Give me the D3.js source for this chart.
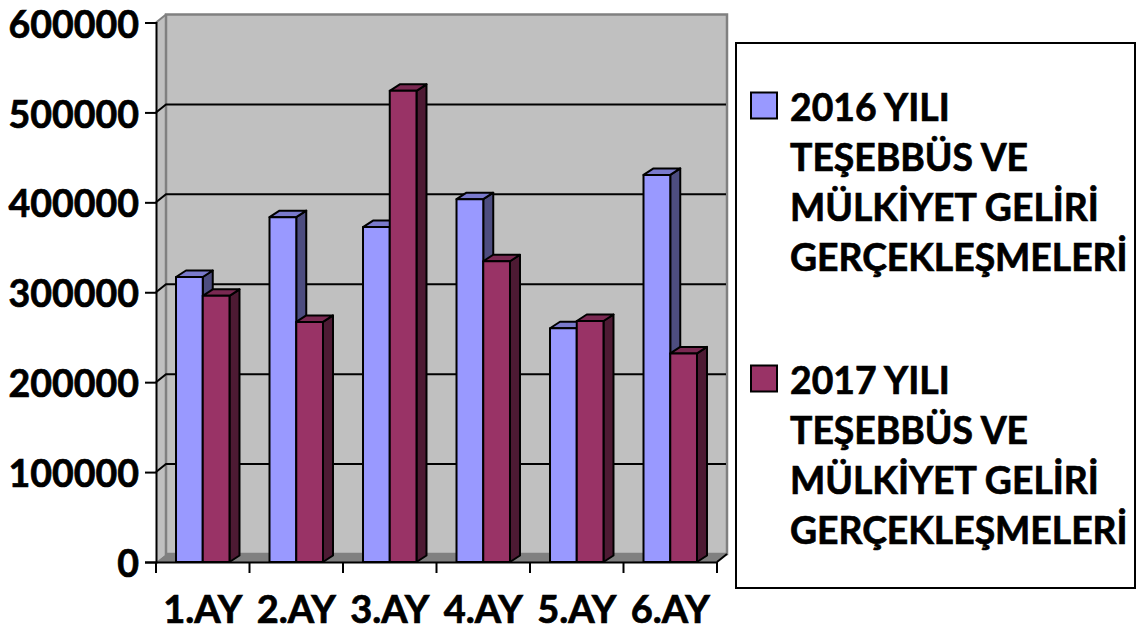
<!DOCTYPE html>
<html>
<head>
<meta charset="utf-8">
<script src="https://cdn.jsdelivr.net/npm/d3@7"></script>
<style>
html, body { margin: 0; padding: 0; background: #fff; }
text { font-family: Lato, "Open Sans", sans-serif; font-weight: 700; fill: #000; stroke: #000; stroke-width: 0.7px; }
</style>
</head>
<body>
<svg id="fig1" width="1137" height="630"></svg>
<script>
const months = ['1.AY', '2.AY', '3.AY', '4.AY', '5.AY', '6.AY'];
const values2016 = [317000, 383500, 372500, 403500, 260000, 430500];
const values2017 = [296000, 267000, 524000, 334500, 268000, 232000];
const yTicks = [0, 100000, 200000, 300000, 400000, 500000, 600000];
const legendLabels2016 = ['2016 YILI', 'TEŞEBBÜS VE', 'MÜLKİYET GELİRİ', 'GERÇEKLEŞMELERİ'];
const legendLabels2017 = ['2017 YILI', 'TEŞEBBÜS VE', 'MÜLKİYET GELİRİ', 'GERÇEKLEŞMELERİ'];

const colors = {
    blue: { front: '#9999ff', top: '#7a7acc', side: '#4d4d80' },
    red: { front: '#993366', top: '#7a2952', side: '#4d1a33' }
};

const chart = d3.select('#fig1');
const plotLeft = 156, plotRight = 717, plotTop = 22.5, plotBottom = 562;
const depthX = 10, depthY = 8;   // 3d offset of the back wall
const barDepthY = 6.5;           // bars are a bit shallower than the wall

const x = d3.scaleBand().domain(months).range([plotLeft, plotRight])
    .paddingInner(0.428).paddingOuter(0.214);
const xSeries = d3.scaleBand().domain(['a', 'b']).range([0, x.bandwidth()]);
const y = d3.scaleLinear().domain([0, 600000]).range([plotBottom, plotTop]);

const poly = pts => pts.map(p => p.join(',')).join(' ');

// walls
const walls = chart.append('g');
walls.append('polygon')
    .attr('points', poly([[plotLeft, plotTop], [plotLeft + depthX, plotTop - depthY], [plotLeft + depthX, plotBottom - depthY], [plotLeft, plotBottom]]))
    .attr('fill', '#c0c0c0');
walls.append('rect')
    .attr('x', plotLeft + depthX).attr('y', plotTop - depthY)
    .attr('width', plotRight - plotLeft).attr('height', plotBottom - plotTop)
    .attr('fill', '#c0c0c0').attr('stroke', '#808080').attr('stroke-width', 2.5);
walls.append('polygon')
    .attr('points', poly([[plotLeft, plotBottom], [plotLeft + depthX, plotBottom - depthY], [plotRight + depthX, plotBottom - depthY], [plotRight, plotBottom]]))
    .attr('fill', '#808080');
walls.append('line')
    .attr('x1', plotLeft).attr('y1', plotTop)
    .attr('x2', plotLeft + depthX).attr('y2', plotTop - depthY)
    .attr('stroke', '#808080').attr('stroke-width', 2);
walls.append('line')
    .attr('x1', plotRight).attr('y1', plotBottom)
    .attr('x2', plotRight + depthX).attr('y2', plotBottom - depthY)
    .attr('stroke', '#000').attr('stroke-width', 2);

// gridlines
walls.selectAll('.grid').data(yTicks.filter(d => d > 0 && d < 600000)).join('path')
    .attr('class', 'grid')
    .attr('d', d => `M${plotLeft},${y(d)}L${plotLeft + depthX},${y(d) - depthY}H${plotRight + depthX - 1}`)
    .attr('fill', 'none').attr('stroke', '#000').attr('stroke-width', 2);

// bars
const drawBars = (values, key, c) => {
    const w = xSeries.bandwidth();
    const g = chart.append('g').selectAll('g').data(values).join('g')
        .attr('stroke', '#000').attr('stroke-width', 2).attr('stroke-linejoin', 'round');
    const bx = (d, i) => x(months[i]) + xSeries(key);
    g.append('polygon').attr('fill', c.side)
        .attr('points', (d, i) => poly([
            [bx(d, i) + w, y(d)], [bx(d, i) + w + depthX, y(d) - barDepthY],
            [bx(d, i) + w + depthX, plotBottom - barDepthY], [bx(d, i) + w, plotBottom]]));
    g.append('polygon').attr('fill', c.top)
        .attr('points', (d, i) => poly([
            [bx(d, i), y(d)], [bx(d, i) + depthX, y(d) - barDepthY],
            [bx(d, i) + w + depthX, y(d) - barDepthY], [bx(d, i) + w, y(d)]]));
    g.append('rect').attr('fill', c.front)
        .attr('x', bx).attr('y', d => y(d))
        .attr('width', w).attr('height', d => plotBottom - y(d));
};

// one pair per month, blue first so the red front covers its side
drawBars(values2016, 'a', colors.blue);
drawBars(values2017, 'b', colors.red);

// axes
const yAxis = d3.axisLeft(y).tickValues(yTicks).tickFormat(d3.format('d')).tickSize(11).tickPadding(6);
const gy = chart.append('g').attr('transform', `translate(${plotLeft},0)`).call(yAxis);
gy.select('.domain').attr('stroke', '#000').attr('stroke-width', 2);
gy.selectAll('.tick line').attr('stroke', '#000').attr('stroke-width', 2);
gy.selectAll('text').attr('font-size', 37.5).attr('dy', '0.39em').attr('fill', '#000').style('font-family', 'Lato').style('font-weight', 700);

const xAxis = d3.axisBottom(x).tickSize(0).tickPadding(34);
const gx = chart.append('g').attr('transform', `translate(0,${plotBottom})`).call(xAxis);
gx.select('.domain').attr('stroke', '#000').attr('stroke-width', 2);
gx.selectAll('text').attr('font-size', 38).attr('fill', '#000').style('font-family', 'Lato').style('font-weight', 700);
gx.selectAll('.edge').data(d3.range(months.length + 1)).join('line')
    .attr('class', 'edge')
    .attr('x1', i => plotLeft + i * x.step()).attr('x2', i => plotLeft + i * x.step())
    .attr('y1', 0).attr('y2', 11)
    .attr('stroke', '#000').attr('stroke-width', 2);

// legend
const legend = chart.append('g');
legend.append('rect')
    .attr('x', 736).attr('y', 43).attr('width', 399).attr('height', 545)
    .attr('fill', '#fff').attr('stroke', '#000').attr('stroke-width', 2);

const drawLegend = (lines, color, swatchY, firstBaseline) => {
    legend.append('rect')
        .attr('x', 751).attr('y', swatchY).attr('width', 26).attr('height', 26)
        .attr('fill', color).attr('stroke', '#000').attr('stroke-width', 2);
    legend.append('text').selectAll('tspan').data(lines).join('tspan')
        .attr('x', 790).attr('y', (d, i) => firstBaseline + i * 50)
        .attr('font-size', 37.3)
        .text(d => d);
};
drawLegend(legendLabels2016, colors.blue.front, 92.5, 121);
drawLegend(legendLabels2017, colors.red.front, 365.5, 394);
</script>
</body>
</html>
